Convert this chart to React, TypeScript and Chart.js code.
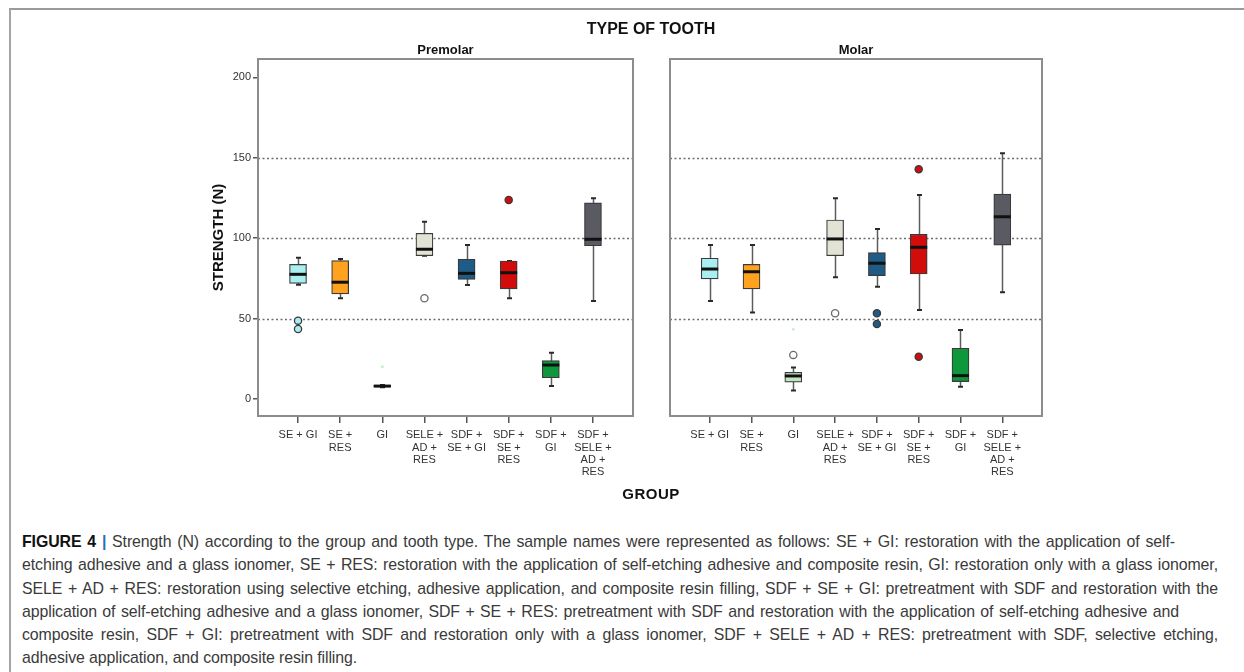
import React, { useEffect, useRef } from "react";
import { Chart, registerables } from "chart.js";

Chart.register(...registerables);

const FONT = "'Liberation Sans', Arial, sans-serif";

// ---- categories / tick labels ----
const groupLabels: string[][] = [
  ["SE + GI"],
  ["SE +", "RES"],
  ["GI"],
  ["SELE +", "AD +", "RES"],
  ["SDF +", "SE + GI"],
  ["SDF +", "SE +", "RES"],
  ["SDF +", "GI"],
  ["SDF +", "SELE +", "AD +", "RES"],
];
const groupColors = ["#a9eff1", "#ffa21e", "#c0e5bf", "#e3e3d5", "#1e5b86", "#d20b0b", "#0e983c", "#5a5a62"];
const yTickValues = [0, 50, 100, 150, 200];
const gridValues = [50, 100, 150];

// ---- Premolar series ----
const premolarMin = [71.0, 62.6, 7.3, 89.1, 70.9, 62.6, 8.1, 60.9];
const premolarQ1 = [71.9, 65.3, 7.5, 89.1, 74.4, 68.4, 13.2, 95.3];
const premolarMedian = [77.5, 72.6, 8.0, 93.1, 78.1, 78.5, 21.1, 99.3];
const premolarQ3 = [83.7, 86.0, 8.5, 103.0, 86.9, 85.8, 23.8, 122.0];
const premolarMax = [87.8, 87.0, 8.7, 110.2, 95.7, 85.8, 28.8, 124.8];
const premolarOutlierGroup = [0, 0, 3, 5];
const premolarOutlierValue = [48.7, 43.5, 62.6, 123.7];
const premolarOutlierHollow = [false, false, true, false];
const premolarFaintGroup = [2];
const premolarFaintValue = [20.1];

// ---- Molar series ----
const molarMin = [60.9, 53.7, 5.2, 75.7, 69.8, 55.3, 7.6, 66.3];
const molarQ1 = [74.6, 68.4, 10.4, 89.1, 76.7, 77.7, 10.8, 95.7];
const molarMedian = [80.8, 79.1, 14.3, 99.5, 84.4, 94.3, 14.5, 113.3];
const molarQ3 = [87.5, 83.7, 16.6, 111.3, 91.0, 102.4, 31.5, 127.4];
const molarMax = [95.7, 95.7, 19.5, 124.8, 105.7, 126.8, 42.9, 152.8];
const molarOutlierGroup = [2, 3, 4, 4, 5, 5];
const molarOutlierValue = [27.4, 53.3, 53.3, 46.6, 142.8, 26.3];
const molarOutlierHollow = [true, true, false, false, false, false];
const molarFaintGroup = [2];
const molarFaintValue = [43.3];

const captionFirst =
  "Strength (N) according to the group and tooth type. The sample names were represented as follows: SE + GI: restoration with the application of self-";
const captionLines = [
  "etching adhesive and a glass ionomer, SE + RES: restoration with the application of self-etching adhesive and composite resin, GI: restoration only with a glass ionomer,",
  "SELE + AD + RES: restoration using selective etching, adhesive application, and composite resin filling, SDF + SE + GI: pretreatment with SDF and restoration with the",
  "application of self-etching adhesive and a glass ionomer, SDF + SE + RES: pretreatment with SDF and restoration with the application of self-etching adhesive and",
  "composite resin, SDF + GI: pretreatment with SDF and restoration only with a glass ionomer, SDF + SELE + AD + RES: pretreatment with SDF, selective etching,",
  "adhesive application, and composite resin filling.",
];
// width each caption line is spread to (0 = natural width)
const captionWidths = [1153, 1196, 1196, 1157, 1196, 0];

const boxPlugin = {
  id: "boxWhiskers",
  beforeDatasetsDraw(chart: any, _args: any, opts: any) {
    const { ctx, chartArea } = chart;
    const x = chart.scales.x;
    const y = chart.scales.y;
    ctx.save();
    ctx.strokeStyle = "#6e6e6e";
    ctx.lineWidth = 1.4;
    ctx.setLineDash([2, 2.5]);
    for (const v of opts.grid) {
      const py = Math.round(y.getPixelForValue(v)) + 0.5;
      ctx.beginPath();
      ctx.moveTo(chartArea.left, py);
      ctx.lineTo(chartArea.right, py);
      ctx.stroke();
    }
    ctx.setLineDash([]);
    opts.min.forEach((mn: number, i: number) => {
      const cx = Math.round(x.getPixelForValue(i)) + 0.5;
      const top = y.getPixelForValue(opts.max[i]);
      const bot = y.getPixelForValue(mn);
      ctx.strokeStyle = "#5c5c5c";
      ctx.lineWidth = 1.5;
      ctx.beginPath();
      ctx.moveTo(cx, top);
      ctx.lineTo(cx, bot);
      ctx.stroke();
      ctx.strokeStyle = "#2a2a2a";
      ctx.lineWidth = 2;
      ctx.beginPath();
      ctx.moveTo(cx - 2.5, top);
      ctx.lineTo(cx + 2.5, top);
      ctx.moveTo(cx - 2.5, bot);
      ctx.lineTo(cx + 2.5, bot);
      ctx.stroke();
    });
    ctx.restore();
  },
  afterDatasetDraw(chart: any, args: any, opts: any) {
    if (args.index !== 0) return;
    const { ctx } = chart;
    const y = chart.scales.y;
    const meta = chart.getDatasetMeta(0);
    ctx.save();
    ctx.strokeStyle = "#111111";
    ctx.lineWidth = 3;
    meta.data.forEach((bar: any, i: number) => {
      const py = y.getPixelForValue(opts.median[i]);
      ctx.beginPath();
      ctx.moveTo(bar.x - bar.width / 2, py);
      ctx.lineTo(bar.x + bar.width / 2, py);
      ctx.stroke();
    });
    ctx.restore();
  },
  afterDraw(chart: any) {
    const { ctx, chartArea } = chart;
    ctx.save();
    ctx.strokeStyle = "#8c8c8c";
    ctx.lineWidth = 2;
    ctx.strokeRect(chartArea.left, chartArea.top, chartArea.right - chartArea.left, chartArea.bottom - chartArea.top);
    ctx.restore();
  },
};

type Panel = {
  title: string;
  min: number[];
  q1: number[];
  median: number[];
  q3: number[];
  max: number[];
  outGroup: number[];
  outValue: number[];
  outHollow: boolean[];
  faintGroup: number[];
  faintValue: number[];
  showY: boolean;
  padding: { left: number; right: number; top: number; bottom: number };
};

function makeConfig(p: Panel): any {
  return {
    type: "bar",
    data: {
      datasets: [
        {
          type: "bar",
          data: p.q1.map((v, i) => ({ x: i, y: [v, p.q3[i]] })),
          backgroundColor: groupColors,
          borderColor: "#3a3a3a",
          borderWidth: 1.2,
          borderSkipped: false,
          barThickness: 17,
        },
        {
          type: "scatter",
          data: p.outGroup.map((g, i) => ({ x: g, y: p.outValue[i] })),
          pointRadius: 3.6,
          pointBackgroundColor: p.outGroup.map((g, i) => (p.outHollow[i] ? "#ffffff" : groupColors[g])),
          pointBorderColor: p.outGroup.map((g, i) => (p.outHollow[i] ? "#6a6a6a" : "#3a3a3a")),
          pointBorderWidth: 1.3,
        },
        {
          type: "scatter",
          data: p.faintGroup.map((g, i) => ({ x: g, y: p.faintValue[i] })),
          pointRadius: 1.5,
          pointBackgroundColor: "#c6f2c6",
          pointBorderWidth: 0,
        },
      ],
    },
    options: {
      animation: false,
      responsive: false,
      events: [],
      layout: { padding: p.padding },
      plugins: {
        legend: { display: false },
        tooltip: { enabled: false },
        title: {
          display: true,
          text: p.title,
          fullSize: false,
          color: "#111",
          font: { family: FONT, size: 13, weight: "bold" },
          padding: { top: 0, bottom: 0.4 },
        },
        boxWhiskers: { min: p.min, max: p.max, median: p.median, grid: gridValues },
      },
      scales: {
        x: {
          type: "linear",
          min: -0.95,
          max: 7.95,
          offset: false,
          afterBuildTicks: (s: any) => {
            s.ticks = groupLabels.map((_, i) => ({ value: i }));
          },
          afterFit: (s: any) => {
            s.height = 84;
          },
          grid: { offset: false, drawOnChartArea: false, drawTicks: true, tickLength: 7, color: "#555", lineWidth: 1.5 },
          border: { display: false },
          ticks: {
            autoSkip: false,
            maxRotation: 0,
            minRotation: 0,
            padding: 6,
            color: "#333",
            font: { family: FONT, size: 11, lineHeight: 1.12 },
            callback: (v: number) => groupLabels[v],
          },
        },
        y: {
          display: p.showY,
          min: -10.6,
          max: 211.4,
          afterBuildTicks: (s: any) => {
            s.ticks = yTickValues.map((v) => ({ value: v }));
          },
          afterFit: (s: any) => {
            s.width = p.showY ? 58 : 0;
          },
          grid: { drawOnChartArea: false, drawTicks: true, tickLength: 5, color: "#555", lineWidth: 1.5 },
          border: { display: false },
          ticks: { padding: 2, color: "#333", font: { family: FONT, size: 11 } },
          title: {
            display: true,
            text: "STRENGTH (N)",
            color: "#111",
            font: { family: FONT, size: 15, weight: "bold" },
            padding: { top: 10, bottom: 0 },
          },
        },
      },
    },
    plugins: [boxPlugin],
  };
}

function PanelChart({ panel, left, width }: { panel: Panel; left: number; width: number }) {
  const ref = useRef<HTMLCanvasElement>(null);
  useEffect(() => {
    const chart = new Chart(ref.current as HTMLCanvasElement, makeConfig(panel));
    return () => chart.destroy();
  }, []);
  return (
    <canvas
      ref={ref}
      width={width}
      height={500}
      style={{ position: "absolute", left, top: 0, width, height: 500 }}
    />
  );
}

const premolarPanel: Panel = {
  title: "Premolar",
  min: premolarMin,
  q1: premolarQ1,
  median: premolarMedian,
  q3: premolarQ3,
  max: premolarMax,
  outGroup: premolarOutlierGroup,
  outValue: premolarOutlierValue,
  outHollow: premolarOutlierHollow,
  faintGroup: premolarFaintGroup,
  faintValue: premolarFaintValue,
  showY: true,
  padding: { left: 200, right: 7, top: 43, bottom: 0 },
};

const molarPanel: Panel = {
  title: "Molar",
  min: molarMin,
  q1: molarQ1,
  median: molarMedian,
  q3: molarQ3,
  max: molarMax,
  outGroup: molarOutlierGroup,
  outValue: molarOutlierValue,
  outHollow: molarOutlierHollow,
  faintGroup: molarFaintGroup,
  faintValue: molarFaintValue,
  showY: false,
  padding: { left: 30, right: 202, top: 43, bottom: 0 },
};

function lineStyle(w: number): React.CSSProperties {
  return w > 0
    ? { width: w, textAlign: "justify", textAlignLast: "justify", whiteSpace: "normal", height: "23.3px", overflow: "visible" }
    : { whiteSpace: "nowrap" };
}

export default function App() {
  return (
    <div
      style={{
        position: "absolute",
        left: 0,
        top: 0,
        width: 1244,
        height: 672,
        background: "#fff",
        overflow: "hidden",
        fontFamily: FONT,
      }}
    >
      <div
        style={{
          position: "absolute",
          left: 9,
          top: 8,
          right: -4,
          bottom: -4,
          borderTop: "2px solid #9a9a9a",
          borderLeft: "2px solid #a4a4a4",
        }}
      />
      <PanelChart panel={premolarPanel} left={0} width={640} />
      <PanelChart panel={molarPanel} left={640} width={604} />
      <div
        style={{
          position: "absolute",
          left: 451,
          width: 400,
          top: 19,
          lineHeight: "20px",
          textAlign: "center",
          fontSize: 16,
          fontWeight: "bold",
          color: "#111",
        }}
      >
        TYPE OF TOOTH
      </div>
      <div
        style={{
          position: "absolute",
          left: 451,
          width: 400,
          top: 484,
          lineHeight: "20px",
          textAlign: "center",
          fontSize: 15,
          fontWeight: "bold",
          letterSpacing: 0.5,
          color: "#111",
        }}
      >
        GROUP
      </div>
      <div
        style={{
          position: "absolute",
          left: 22,
          top: 530,
          fontSize: 15.9,
          lineHeight: "23.3px",
          color: "#3a3a3a",
          letterSpacing: -0.1,
        }}
      >
        <div style={lineStyle(captionWidths[0])}>
          <span style={{ fontWeight: "bold", color: "#111" }}>FIGURE 4 </span>
          <span style={{ fontWeight: "bold", color: "#2f6db5" }}>|</span> {captionFirst}
        </div>
        {captionLines.map((t, i) => (
          <div key={i} style={lineStyle(captionWidths[i + 1])}>
            {t}
          </div>
        ))}
      </div>
    </div>
  );
}
